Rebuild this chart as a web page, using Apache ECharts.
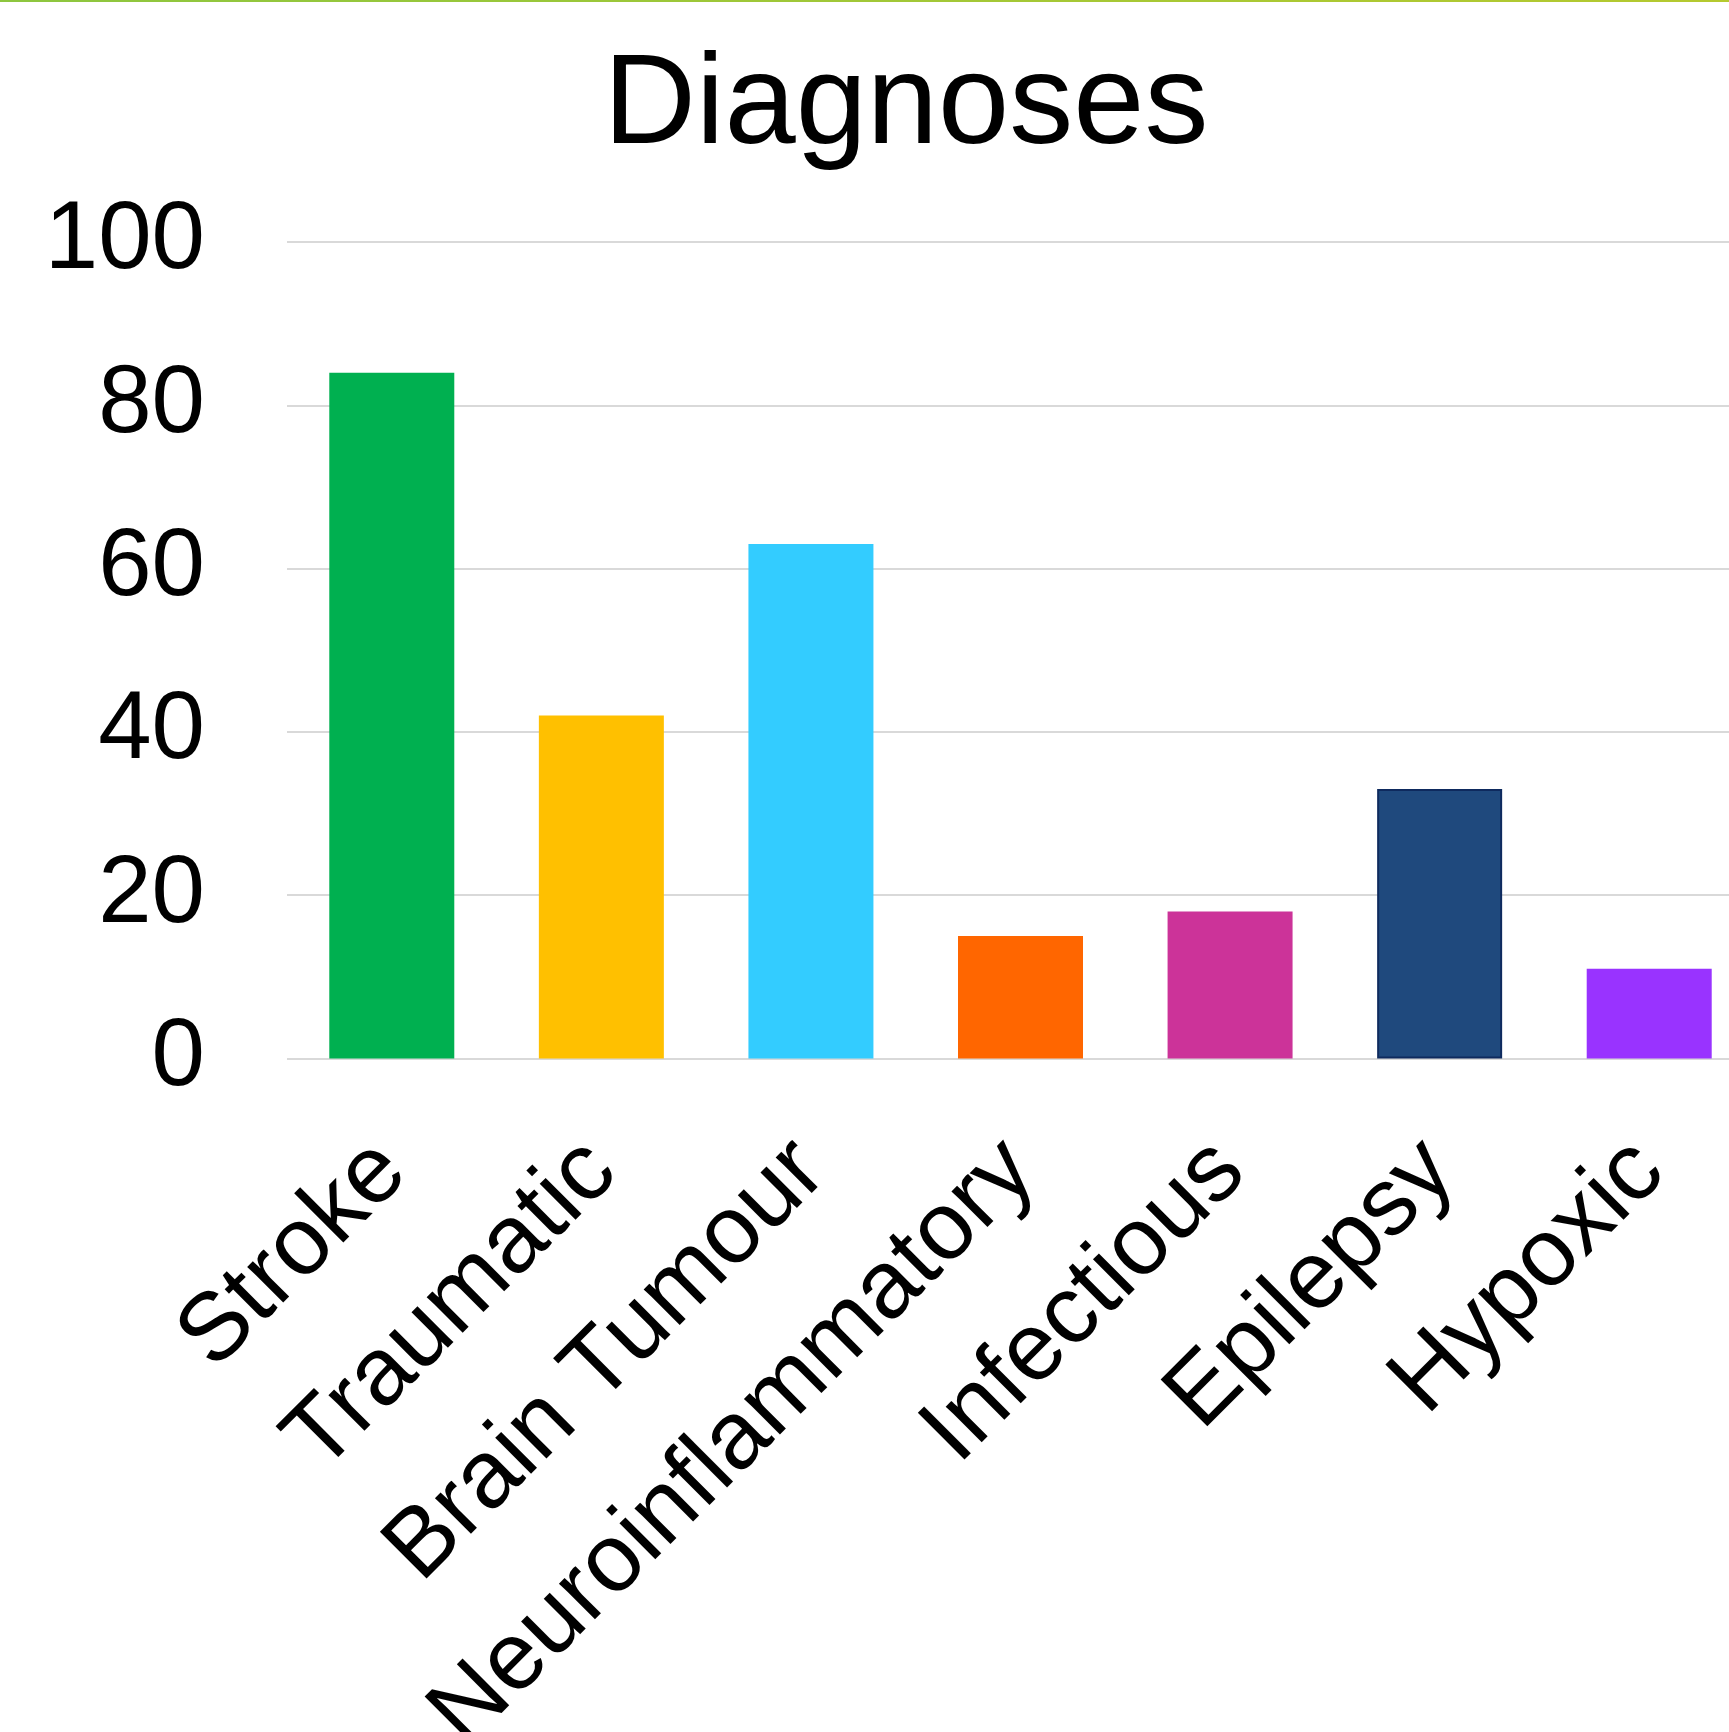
<!DOCTYPE html>
<html>
<head>
<meta charset="utf-8">
<title>Diagnoses</title>
<script src="https://cdn.jsdelivr.net/npm/echarts@6/dist/echarts.min.js"></script>
<style>
  html, body { margin: 0; padding: 0; background: #ffffff; }
  #chart { width: 1729px; height: 1732px; }
</style>
</head>
<body>
<div id="chart"></div>
<script>
// Diagnosis categories and patient counts
const categories = ['Stroke', 'Traumatic', 'Brain Tumour', 'Neuroinflammatory', 'Infectious', 'Epilepsy', 'Hypoxic'];
const counts = [84, 42, 63, 15, 18, 33, 11];
const yTicks = [0, 20, 40, 60, 80, 100];

// One fill per category
const barColors = ['#00B050', '#FFC000', '#33CCFF', '#FF6600', '#CC3399', '#1F497D', '#9933FF'];
const barBorders = [null, null, null, null, null, '#0E2A5E', null];

const FONT = '"Liberation Sans", Arial, sans-serif';

const chart = echarts.init(document.getElementById('chart'), null, { renderer: 'canvas' });

const seriesData = counts.map((v, i) => ({
  value: v,
  itemStyle: barBorders[i]
    ? { color: barColors[i], borderColor: barBorders[i], borderWidth: 2 }
    : { color: barColors[i] }
}));

chart.setOption({
  backgroundColor: '#ffffff',
  animation: false,
  title: {
    text: 'Diagnoses',
    left: 906,
    top: 44,
    textAlign: 'center',
    padding: 0,
    textStyle: { fontFamily: FONT, fontSize: 128, fontWeight: 'normal', color: '#000000' }
  },
  graphic: [{
    type: 'rect',
    left: 0,
    top: 0,
    shape: { width: 1729, height: 2 },
    style: {
      fill: new echarts.graphic.LinearGradient(0, 0, 1, 0, [
        { offset: 0, color: '#8DC63F' },
        { offset: 1, color: '#B5C92F' }
      ])
    },
    silent: true
  }],
  grid: {
    left: 287, top: 242, width: 1467, height: 816.5,
    containLabel: false,
    outerBoundsMode: 'none'
  },
  xAxis: {
    type: 'category',
    data: categories,
    axisLine: { show: false },
    axisTick: { show: false },
    axisLabel: {
      rotate: 45,
      interval: 0,
      margin: 98,
      padding: [12, 0, 0, 0],
      fontFamily: FONT,
      fontSize: 96,
      color: '#000000'
    }
  },
  yAxis: {
    type: 'value',
    min: yTicks[0],
    max: yTicks[yTicks.length - 1],
    interval: yTicks[1] - yTicks[0],
    axisLine: { show: false },
    axisTick: { show: false },
    splitLine: { lineStyle: { color: '#D9D9D9', width: 2 } },
    axisLabel: {
      margin: 82,
      padding: [9, 0, 0, 0],
      fontFamily: FONT,
      fontSize: 96,
      color: '#000000'
    }
  },
  series: [{
    type: 'bar',
    data: seriesData,
    barWidth: 125
  }]
});
</script>
</body>
</html>
